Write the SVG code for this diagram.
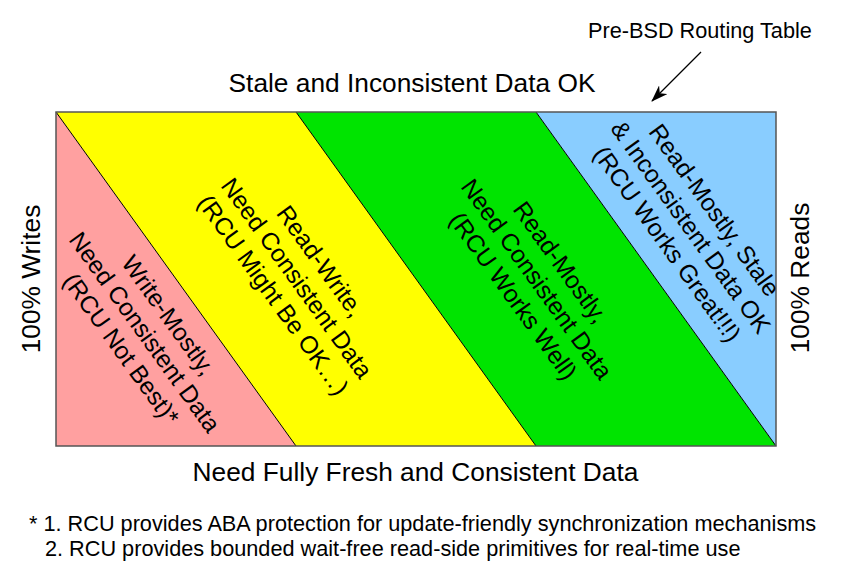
<svg xmlns="http://www.w3.org/2000/svg" width="854" height="574" viewBox="0 0 854 574">
<defs>
<style>
text{font-family:"Liberation Sans",Arial,sans-serif;fill:#000}
.big{font-size:26.3px}
.mid{font-size:21.7px}
.zone{font-size:24.5px;text-anchor:middle}
.edge{stroke:#000;stroke-width:1;fill:none}
</style>
<marker id="ah" viewBox="0 0 17 12" refX="16" refY="6" markerWidth="17" markerHeight="12" markerUnits="userSpaceOnUse" orient="auto">
<path d="M0,0 L17,6 L0,12 L5,6 Z" fill="#000"/>
</marker>
</defs>
<rect width="854" height="574" fill="#fff"/>
<g id="zone-pink"><polygon points="56,112 296,446 56,446" fill="#ffa0a0"/></g>
<g id="zone-yellow"><polygon points="56,112 296,112 536,446 296,446" fill="#ffff00"/></g>
<g id="zone-green"><polygon points="296,112 536,112 776,446 536,446" fill="#00e400"/></g>
<g id="zone-blue"><polygon points="536,112 776,112 776,446" fill="#89cdff"/></g>
<g id="connectors">
<line class="edge" x1="56" y1="112" x2="296" y2="446"/>
<line class="edge" x1="296" y1="112" x2="536" y2="446"/>
<line class="edge" x1="536" y1="112" x2="776" y2="446"/>
<line x1="701" y1="52" x2="652" y2="101" stroke="#000" stroke-width="1.3" marker-end="url(#ah)"/>
</g>
<rect x="56" y="112" width="720" height="334" fill="none" stroke="#555" stroke-width="1.5"/>
<g id="label-pink"><text class="zone" transform="translate(138,337) rotate(54.3)"><tspan x="0" y="-29">Write-Mostly,</tspan><tspan x="0" y="0">Need Consistent Data</tspan><tspan x="0" y="29">(RCU Not Best)*</tspan></text></g>
<g id="label-yellow"><text class="zone" transform="translate(290,283) rotate(54.3)"><tspan x="0" y="-29">Read-Write,</tspan><tspan x="0" y="0">Need Consistent Data</tspan><tspan x="0" y="29">(RCU Might Be OK…)</tspan></text></g>
<g id="label-green"><text class="zone" transform="translate(530,284) rotate(54.3)"><tspan x="0" y="-29">Read-Mostly,</tspan><tspan x="0" y="0">Need Consistent Data</tspan><tspan x="0" y="29">(RCU Works Well)</tspan></text></g>
<g id="label-blue"><text class="zone" transform="translate(684,232) rotate(54.3)"><tspan x="0" y="-29">Read-Mostly, Stale</tspan><tspan x="0" y="0">&amp; Inconsistent Data OK</tspan><tspan x="0" y="29">(RCU Works Great!!!)</tspan></text></g>
<g id="axis-top"><text class="big" x="412" y="92" text-anchor="middle">Stale and Inconsistent Data OK</text></g>
<g id="axis-bottom"><text class="big" x="415.5" y="481" text-anchor="middle">Need Fully Fresh and Consistent Data</text></g>
<g id="axis-left"><text class="big" transform="translate(40,279) rotate(-90)" text-anchor="middle">100% Writes</text></g>
<g id="axis-right"><text class="big" transform="translate(809,278) rotate(-90)" text-anchor="middle">100% Reads</text></g>
<g id="callout"><text class="mid" x="588" y="38">Pre-BSD Routing Table</text></g>
<g id="footnote">
<text class="mid" x="29" y="531">* 1. RCU provides ABA protection for update-friendly synchronization mechanisms</text>
<text class="mid" x="45" y="556">2. RCU provides bounded wait-free read-side primitives for real-time use</text>
</g>
</svg>
